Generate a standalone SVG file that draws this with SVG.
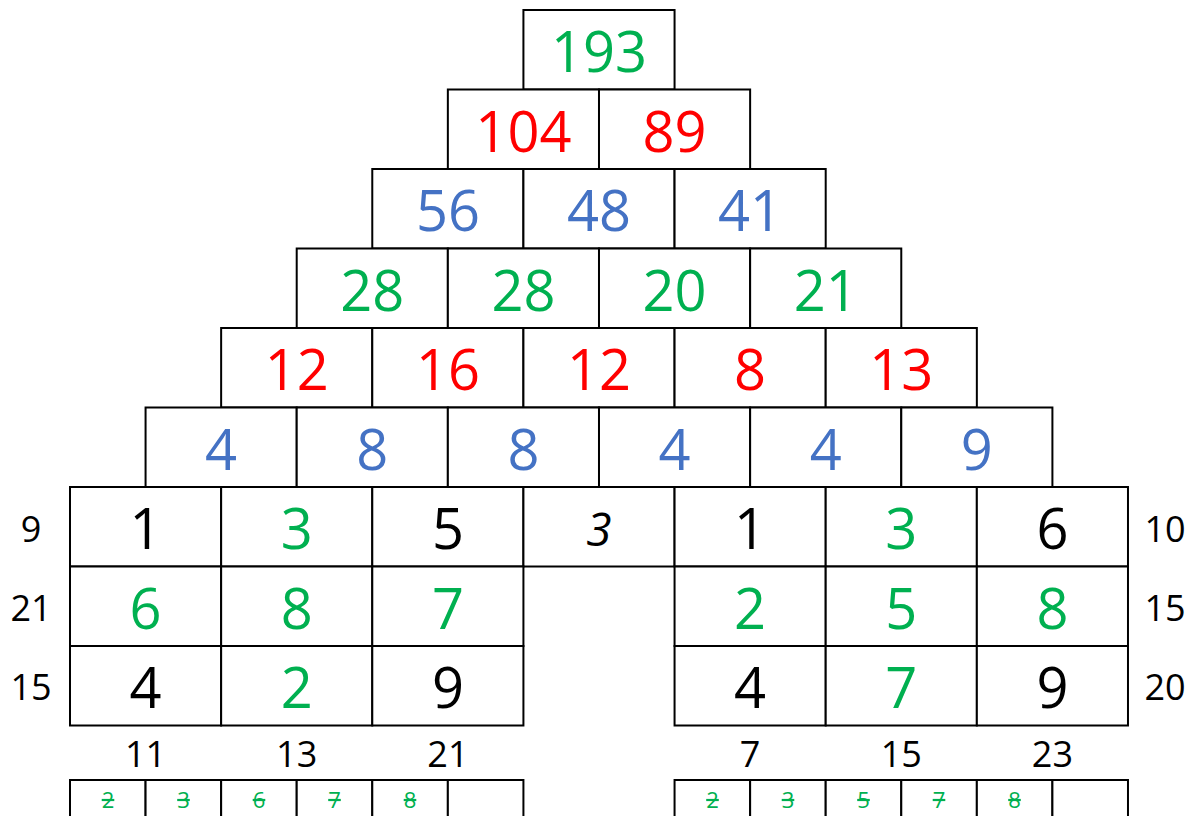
<svg xmlns="http://www.w3.org/2000/svg" width="1191" height="816" viewBox="0 0 1191 816">
<style>
rect{fill:#fff;stroke:#000;stroke-width:2}
text{font-family:"Open Sans","Noto Sans",sans-serif;text-anchor:middle}
.b{font-size:56px}
.s{font-size:36px;fill:#000}
.k{fill:#000}.g{fill:#00B050}.r{fill:#FF0000}.u{fill:#4472C4}
.i{font-size:46px;font-style:italic;fill:#000}
.x{font-size:22px;fill:#00B050;text-decoration:line-through}
</style>
<rect x="0" y="0" width="1191" height="816" style="stroke:none"/>
<g id="row0">
<g id="p0_0"><rect x="523.42" y="10" width="151.14" height="79.5"/><text class="b g" x="599" y="72">193</text></g>
</g>
<g id="row1">
<g id="p1_0"><rect x="447.85" y="89.5" width="151.14" height="79.5"/><text class="b r" x="523.4" y="151.5">104</text></g>
<g id="p1_1"><rect x="598.99" y="89.5" width="151.14" height="79.5"/><text class="b r" x="674.6" y="151.5">89</text></g>
</g>
<g id="row2">
<g id="p2_0"><rect x="372.28" y="169" width="151.14" height="79.5"/><text class="b u" x="447.9" y="231">56</text></g>
<g id="p2_1"><rect x="523.42" y="169" width="151.14" height="79.5"/><text class="b u" x="599" y="231">48</text></g>
<g id="p2_2"><rect x="674.56" y="169" width="151.14" height="79.5"/><text class="b u" x="750.1" y="231">41</text></g>
</g>
<g id="row3">
<g id="p3_0"><rect x="296.71" y="248.5" width="151.14" height="79.5"/><text class="b g" x="372.3" y="310.5">28</text></g>
<g id="p3_1"><rect x="447.85" y="248.5" width="151.14" height="79.5"/><text class="b g" x="523.4" y="310.5">28</text></g>
<g id="p3_2"><rect x="598.99" y="248.5" width="151.14" height="79.5"/><text class="b g" x="674.6" y="310.5">20</text></g>
<g id="p3_3"><rect x="750.13" y="248.5" width="151.14" height="79.5"/><text class="b g" x="825.7" y="310.5">21</text></g>
</g>
<g id="row4">
<g id="p4_0"><rect x="221.14" y="328" width="151.14" height="79.5"/><text class="b r" x="296.7" y="390">12</text></g>
<g id="p4_1"><rect x="372.28" y="328" width="151.14" height="79.5"/><text class="b r" x="447.9" y="390">16</text></g>
<g id="p4_2"><rect x="523.42" y="328" width="151.14" height="79.5"/><text class="b r" x="599" y="390">12</text></g>
<g id="p4_3"><rect x="674.56" y="328" width="151.14" height="79.5"/><text class="b r" x="750.1" y="390">8</text></g>
<g id="p4_4"><rect x="825.7" y="328" width="151.14" height="79.5"/><text class="b r" x="901.3" y="390">13</text></g>
</g>
<g id="row5">
<g id="p5_0"><rect x="145.57" y="407.5" width="151.14" height="79.5"/><text class="b u" x="221.1" y="469.5">4</text></g>
<g id="p5_1"><rect x="296.71" y="407.5" width="151.14" height="79.5"/><text class="b u" x="372.3" y="469.5">8</text></g>
<g id="p5_2"><rect x="447.85" y="407.5" width="151.14" height="79.5"/><text class="b u" x="523.4" y="469.5">8</text></g>
<g id="p5_3"><rect x="598.99" y="407.5" width="151.14" height="79.5"/><text class="b u" x="674.6" y="469.5">4</text></g>
<g id="p5_4"><rect x="750.13" y="407.5" width="151.14" height="79.5"/><text class="b u" x="825.7" y="469.5">4</text></g>
<g id="p5_5"><rect x="901.27" y="407.5" width="151.14" height="79.5"/><text class="b u" x="976.8" y="469.5">9</text></g>
</g>
<g id="grid">
<g id="g0_0"><rect x="70" y="487" width="151.14" height="79.5"/><text class="b k" x="145.6" y="549">1</text></g>
<g id="g0_1"><rect x="221.14" y="487" width="151.14" height="79.5"/><text class="b g" x="296.7" y="549">3</text></g>
<g id="g0_2"><rect x="372.28" y="487" width="151.14" height="79.5"/><text class="b k" x="447.9" y="549">5</text></g>
<g id="g0_3"><rect x="523.42" y="487" width="151.14" height="79.5"/><text class="i" x="599" y="546">3</text></g>
<g id="g0_4"><rect x="674.56" y="487" width="151.14" height="79.5"/><text class="b k" x="750.1" y="549">1</text></g>
<g id="g0_5"><rect x="825.7" y="487" width="151.14" height="79.5"/><text class="b g" x="901.3" y="549">3</text></g>
<g id="g0_6"><rect x="976.84" y="487" width="151.14" height="79.5"/><text class="b k" x="1052.4" y="549">6</text></g>
<g id="g1_0"><rect x="70" y="566.5" width="151.14" height="79.5"/><text class="b g" x="145.6" y="628.5">6</text></g>
<g id="g1_1"><rect x="221.14" y="566.5" width="151.14" height="79.5"/><text class="b g" x="296.7" y="628.5">8</text></g>
<g id="g1_2"><rect x="372.28" y="566.5" width="151.14" height="79.5"/><text class="b g" x="447.9" y="628.5">7</text></g>
<g id="g1_4"><rect x="674.56" y="566.5" width="151.14" height="79.5"/><text class="b g" x="750.1" y="628.5">2</text></g>
<g id="g1_5"><rect x="825.7" y="566.5" width="151.14" height="79.5"/><text class="b g" x="901.3" y="628.5">5</text></g>
<g id="g1_6"><rect x="976.84" y="566.5" width="151.14" height="79.5"/><text class="b g" x="1052.4" y="628.5">8</text></g>
<g id="g2_0"><rect x="70" y="646" width="151.14" height="79.5"/><text class="b k" x="145.6" y="708">4</text></g>
<g id="g2_1"><rect x="221.14" y="646" width="151.14" height="79.5"/><text class="b g" x="296.7" y="708">2</text></g>
<g id="g2_2"><rect x="372.28" y="646" width="151.14" height="79.5"/><text class="b k" x="447.9" y="708">9</text></g>
<g id="g2_4"><rect x="674.56" y="646" width="151.14" height="79.5"/><text class="b k" x="750.1" y="708">4</text></g>
<g id="g2_5"><rect x="825.7" y="646" width="151.14" height="79.5"/><text class="b g" x="901.3" y="708">7</text></g>
<g id="g2_6"><rect x="976.84" y="646" width="151.14" height="79.5"/><text class="b k" x="1052.4" y="708">9</text></g>
</g>
<g id="sums">
<text class="s" x="31" y="542">9</text>
<text class="s" x="31" y="621">21</text>
<text class="s" x="31" y="700">15</text>
<text class="s" x="1165" y="542">10</text>
<text class="s" x="1165" y="621">15</text>
<text class="s" x="1165" y="700">20</text>
<text class="s" x="145.6" y="767">11</text>
<text class="s" x="296.7" y="767">13</text>
<text class="s" x="447.9" y="767">21</text>
<text class="s" x="750.1" y="767">7</text>
<text class="s" x="901.3" y="767">15</text>
<text class="s" x="1052.4" y="767">23</text>
</g>
<g id="strikeLeft">
<rect x="70" y="780" width="75.57" height="60"/><text class="x" x="108" y="808">2</text>
<rect x="145.57" y="780" width="75.57" height="60"/><text class="x" x="183.5" y="808">3</text>
<rect x="221.14" y="780" width="75.57" height="60"/><text class="x" x="259" y="808">6</text>
<rect x="296.71" y="780" width="75.57" height="60"/><text class="x" x="334.5" y="808">7</text>
<rect x="372.28" y="780" width="75.57" height="60"/><text class="x" x="410" y="808">8</text>
<rect x="447.85" y="780" width="75.57" height="60"/>
</g>
<g id="strikeRight">
<rect x="674.56" y="780" width="75.57" height="60"/><text class="x" x="712.5" y="808">2</text>
<rect x="750.13" y="780" width="75.57" height="60"/><text class="x" x="788" y="808">3</text>
<rect x="825.7" y="780" width="75.57" height="60"/><text class="x" x="863.5" y="808">5</text>
<rect x="901.27" y="780" width="75.57" height="60"/><text class="x" x="939" y="808">7</text>
<rect x="976.84" y="780" width="75.57" height="60"/><text class="x" x="1014.5" y="808">8</text>
<rect x="1052.41" y="780" width="75.57" height="60"/>
</g>
</svg>
